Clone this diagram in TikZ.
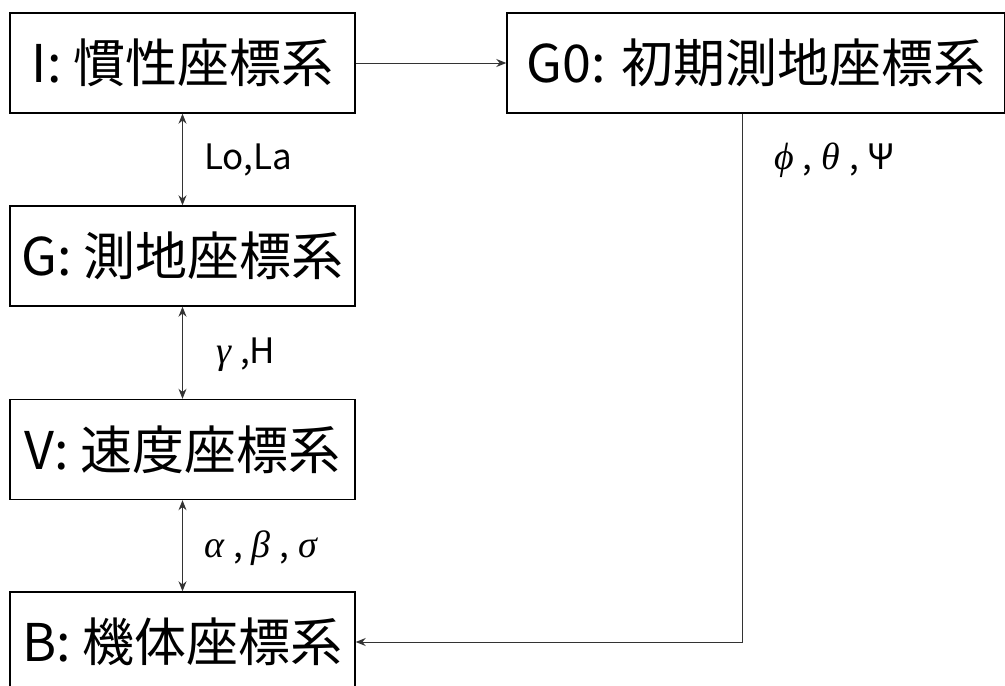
\documentclass[tikz,border=0pt]{standalone}
\usepackage{fontspec}
\setmainfont{Noto Sans CJK JP}
\newfontfamily\gk{Liberation Serif}
\newcommand{\gi}[1]{{\gk\itshape\fontsize{38}{44}\selectfont #1}}
\newcommand{\gsp}{\hspace*{9pt}}
\usetikzlibrary{arrows.meta}
\tikzset{
  frame/.style={draw=black, line width=1.4pt, minimum height=100pt, inner sep=0pt, font=\fontsize{52}{58}\selectfont, anchor=center},
  lbl/.style={inner sep=0pt, anchor=west, font=\fontsize{35}{40}\selectfont},
  conn/.style={draw=black!80, line width=1pt},
  arr/.style={conn, -{Stealth[length=10pt,width=8pt]}},
  darr/.style={conn, {Stealth[length=10pt,width=8pt]}-{Stealth[length=10pt,width=8pt]}},
}
\begin{document}
\begin{tikzpicture}[x=1pt,y=-1pt]
\useasboundingbox (0,0) rectangle (1005,686);
\node[frame, minimum width=345pt] (I) at (182.5,63) {I: 慣性座標系};
\node[frame, minimum width=498pt] (G0) at (756,63) {G0: 初期測地座標系};
\node[frame, minimum width=345pt] (G) at (182.5,256) {G: 測地座標系};
\node[frame, minimum width=345pt] (V) at (182.5,449.5) {V: 速度座標系};
\node[frame, minimum width=345pt] (B) at (182.5,642) {B: 機体座標系};
\coordinate (c) at (742,642);
\draw[arr] (I) -- (G0);
\draw[darr] (I) -- (G);
\draw[darr] (G) -- (V);
\draw[darr] (V) -- (B);
\draw[arr] (G0.south -| c) -- (c) -- (B.east);
\node[lbl] (l1) at (204,160) {Lo,La};
\node[lbl] (l2) at (216,355) {\gi{γ}\gsp,H};
\node[lbl] (l3) at (204,548) {\gi{α}\gsp,\gsp\gi{β}\gsp,\gsp\gi{σ}};
\node[lbl] (l4) at (774,160) {\gi{ϕ}\gsp,\gsp\gi{θ}\gsp,\gsp Ψ};
\end{tikzpicture}
\end{document}
